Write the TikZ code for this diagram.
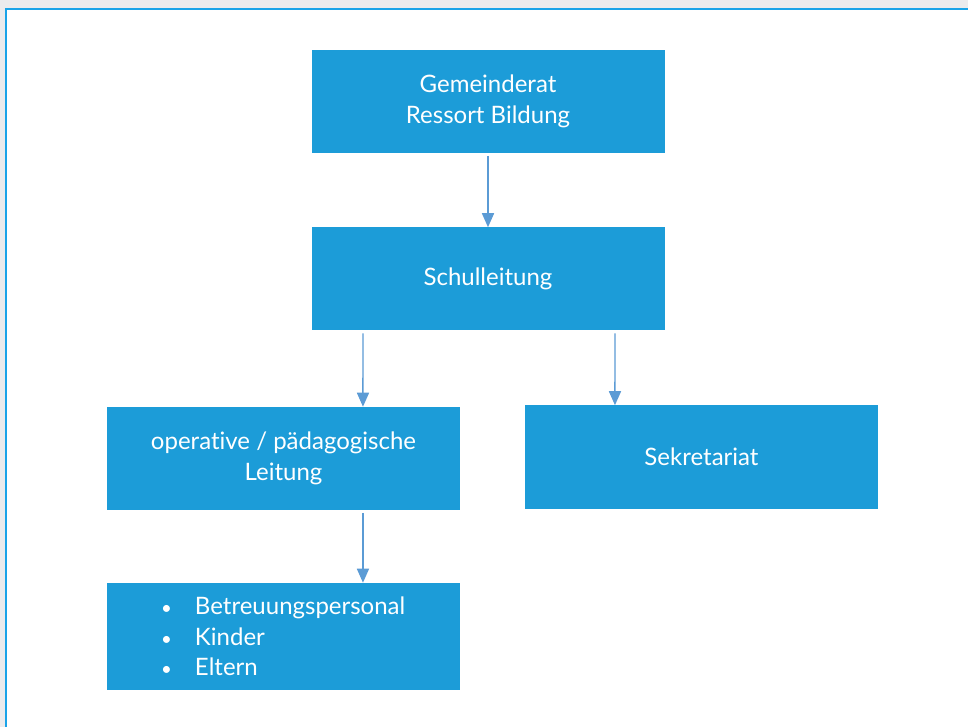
\documentclass[tikz,border=0pt]{standalone}
\usepackage{fontspec}
\setmainfont{Lato}[RawFeature={-liga}]
\usetikzlibrary{arrows.meta}
\definecolor{boxblue}{HTML}{1C9CD8}
\definecolor{arrowblue}{HTML}{5B9BD5}
\definecolor{framegray}{HTML}{EBEBED}
\definecolor{frameblue}{HTML}{1AA3E8}
\newcommand{\orgbullet}{\hspace*{40.5pt}\makebox[25.5pt][l]{\fontsize{14}{23}\selectfont•}}
\tikzset{
  orgbox/.style={draw=none, fill=boxblue, text=white, inner sep=0pt,
    minimum width=264.75pt, minimum height=77.25pt, align=center,
    font=\fontsize{18}{23}\selectfont},
  orgarrow/.style={draw=arrowblue, line width=1.1pt,
    -{Triangle[width=9pt,length=10.5pt]}}
}
\begin{document}
\begin{tikzpicture}[x=0.75pt,y=-0.75pt]
\useasboundingbox (0,0) rectangle (968,727);
\fill[framegray] (0,0) rectangle (968,727);
\fill[white] (5,8) rectangle (975,735);
\draw[frameblue, line width=1.5pt] (6,740) -- (6,9) -- (975,9);
\node[orgbox] (gr) at (488,101.5) {Gemeinderat\\Ressort Bildung};
\node[orgbox] (sl) at (488,279) {Schulleitung};
\node[orgbox] (op) at (283.5,458.5) {operative / pädagogische\\Leitung};
\node[orgbox] (sk) at (701.5,457) {Sekretariat};
\node[orgbox, text width=264.75pt, align=left, minimum height=80.25pt] (li) at (283.5,636.5)
  {\orgbullet Betreuungspersonal\\\orgbullet Kinder\\\orgbullet Eltern};
\draw[orgarrow] ([yshift=-2pt]gr.south) -- (sl.north);
\draw[orgarrow] ([xshift=-93.75pt,yshift=-2pt]sl.south) -- ([xshift=59.6pt]op.north);
\draw[orgarrow] ([xshift=95.25pt,yshift=-2pt]sl.south) -- ([xshift=-64.9pt]sk.north);
\draw[orgarrow] ([xshift=59.6pt,yshift=-2pt]op.south) -- ([xshift=59.6pt]li.north);
\end{tikzpicture}
\end{document}
